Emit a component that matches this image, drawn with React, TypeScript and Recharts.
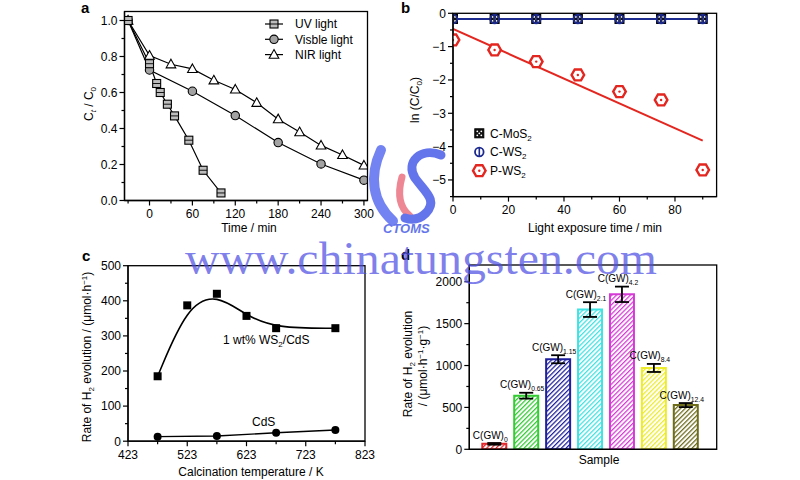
import React from "react";
import { ComposedChart, Line, Bar, Cell, XAxis, YAxis, ErrorBar, LabelList, Legend } from "recharts";

const FONT = 'Arial, "Liberation Sans", Helvetica, sans-serif';

// ---- panel a: degradation ----
const uvTime = [-30, 0, 10, 15, 25, 35, 55, 75, 100];
const uvRatio = [1.0, 0.76, 0.65, 0.6, 0.535, 0.47, 0.335, 0.168, 0.042];
const visTime = [-30, 0, 60, 120, 180, 240, 300];
const visRatio = [1.0, 0.725, 0.607, 0.472, 0.322, 0.203, 0.113];
const nirTime = [-30, 0, 30, 60, 90, 120, 150, 180, 210, 240, 270, 300];
const nirRatio = [1.0, 0.805, 0.757, 0.731, 0.668, 0.617, 0.543, 0.452, 0.38, 0.306, 0.253, 0.195];
const aTicksX = [-30, 0, 30, 60, 90, 120, 150, 180, 210, 240, 270, 300];
const aMajorX = [0, 60, 120, 180, 240, 300];
const aTicksY = [0, 0.1, 0.2, 0.3, 0.4, 0.5, 0.6, 0.7, 0.8, 0.9, 1.0];
const aMajorY = [0, 0.2, 0.4, 0.6, 0.8, 1.0];

// ---- panel b: kinetics ----
const bTime = [0, 15, 30, 45, 60, 75, 90];
const cMoS2 = [-0.17, -0.17, -0.17, -0.17, -0.17, -0.17, -0.17];
const cWS2 = [-0.17, -0.17, -0.17, -0.17, -0.17, -0.17, -0.17];
const pWS2 = [-0.8, -1.1, -1.45, -1.85, -2.35, -2.6, -4.7];
const fitTime = [0, 90];
const fitValue = [-0.47, -3.82];
const bTicksX = [0, 10, 20, 30, 40, 50, 60, 70, 80, 90];
const bMajorX = [0, 20, 40, 60, 80];
const bTicksY = [0, -0.5, -1, -1.5, -2, -2.5, -3, -3.5, -4, -4.5, -5, -5.5];
const bMajorY = [0, -1, -2, -3, -4, -5];

// ---- panel c: calcination ----
const tempWS2 = [473, 523, 573, 623, 673, 773];
const rateWS2 = [185, 387, 420, 357, 322, 322];
const tempCdS = [473, 573, 673, 773];
const rateCdS = [13, 15, 24, 32];
const cTicksX = [423, 473, 523, 573, 623, 673, 723, 773, 823];
const cMajorX = [423, 523, 623, 723, 823];
const cTicksY = [0, 50, 100, 150, 200, 250, 300, 350, 400, 450, 500];
const cMajorY = [0, 100, 200, 300, 400, 500];

// ---- panel d: samples ----
const samples = ["0", "0.65", "1.15", "2.1", "4.2", "8.4", "12.4"];
const sampleRates = [65, 640, 1075, 1668, 1850, 971, 528];
const sampleErrs = [10, 35, 48, 88, 92, 48, 24];
const barColors = ["#e3262b", "#33cc33", "#1f1f9e", "#3fe3e3", "#d63ad6", "#ecec2c", "#6d6d1c"];
const dTicksY = [0, 250, 500, 750, 1000, 1250, 1500, 1750, 2000];
const dMajorY = [0, 500, 1000, 1500, 2000];

// plot frames on the page (left, top, right, bottom) and each chart's origin
const frameA = { l: 124.5, t: 11.5, r: 367.5, b: 200.5, ox: 0, oy: 0 };
const frameB = { l: 453, t: 13.3, r: 716.6, b: 196.6, ox: 400, oy: 0 };
const frameC = { l: 128, t: 265.7, r: 365, b: 441.2, ox: 0, oy: 240 };
const frameD = { l: 469.3, t: 265, r: 716.7, b: 449.3, ox: 400, oy: 240 };
const Y_W = 40;
const X_H = 30;
const marginOf = (f: typeof frameA, yw = Y_W) => ({
  left: f.l - f.ox - yw,
  top: f.t - f.oy,
  right: f.ox + 400 - f.r,
  bottom: f.oy + 240 - f.b - X_H,
});

const zip = (xs: number[], ys: number[]) => xs.map((x, i) => ({ x, y: ys[i] }));
const minus = (v: number) => (v < 0 ? "\u2212" + Math.abs(v) : String(v));

const makeTick = (major: number[], side: "left" | "bottom", fmt: (v: number) => string = String) => (props: any) => {
  const { x, y, payload } = props;
  const v = payload.value;
  const isMajor = major.some((m) => Math.abs(m - v) < 1e-9);
  const len = isMajor ? 5 : 3;
  if (side === "bottom") {
    return (
      <g>
        <line x1={x} x2={x} y1={y} y2={y + len} stroke="#000" strokeWidth={1.2} />
        {isMajor && (
          <text x={x} y={y + 17.5} textAnchor="middle" fontSize={12} fontFamily={FONT} fill="#000">
            {fmt(v)}
          </text>
        )}
      </g>
    );
  }
  return (
    <g>
      <line x1={x - len} x2={x} y1={y} y2={y} stroke="#000" strokeWidth={1.2} />
      {isMajor && (
        <text x={x - 7} y={y + 4.3} textAnchor="end" fontSize={12} fontFamily={FONT} fill="#000">
          {fmt(v)}
        </text>
      )}
    </g>
  );
};

// markers
const UvMark = ({ cx, cy }: any) => (
  <g>
    <rect x={cx - 4} y={cy - 4} width={8} height={8} fill="#bdbdbd" stroke="#000" strokeWidth={1.1} />
    <line x1={cx - 4} x2={cx + 4} y1={cy} y2={cy} stroke="#000" strokeWidth={0.9} />
  </g>
);
const VisMark = ({ cx, cy }: any) => <circle cx={cx} cy={cy} r={4.2} fill="#a3a3a3" stroke="#000" strokeWidth={1.1} />;
const NirMark = ({ cx, cy }: any) => (
  <path d={`M${cx},${cy - 5} L${cx + 4.8},${cy + 3.6} L${cx - 4.8},${cy + 3.6} Z`} fill="#fff" stroke="#000" strokeWidth={1.1} />
);
const MoMark = ({ cx, cy }: any) => (
  <g>
    <rect x={cx - 4.5} y={cy - 4.5} width={9} height={9} fill="#111" stroke="#000" />
    <circle cx={cx - 2} cy={cy - 2} r={0.9} fill="#fff" />
    <circle cx={cx + 2} cy={cy - 2} r={0.9} fill="#fff" />
    <circle cx={cx - 2} cy={cy + 2} r={0.9} fill="#fff" />
    <circle cx={cx + 2} cy={cy + 2} r={0.9} fill="#fff" />
    <circle cx={cx} cy={cy} r={0.9} fill="#fff" />
  </g>
);
const WsMark = ({ cx, cy }: any) => (
  <g>
    <circle cx={cx} cy={cy} r={4.3} fill="none" stroke="#1d2b8f" strokeWidth={1.8} />
    <line x1={cx} x2={cx} y1={cy - 4.3} y2={cy + 4.3} stroke="#1d2b8f" strokeWidth={1.6} />
  </g>
);
const HexMark = ({ cx, cy }: any) => {
  const r = 6.3;
  const pts = [0, 60, 120, 180, 240, 300]
    .map((a) => `${cx + r * Math.cos((a * Math.PI) / 180)},${cy + r * Math.sin((a * Math.PI) / 180)}`)
    .join(" ");
  return (
    <g>
      <polygon points={pts} fill="#fff" stroke="#e3261f" strokeWidth={2.4} />
      <circle cx={cx} cy={cy} r={1.2} fill="#e3261f" />
    </g>
  );
};
const SqMark = ({ cx, cy }: any) => <rect x={cx - 4} y={cy - 4} width={8} height={8} fill="#000" />;
const DotMark = ({ cx, cy }: any) => <circle cx={cx} cy={cy} r={4} fill="#000" />;

const dotOf = (M: any) => (p: any) => (p.cx == null ? <g key={p.index} /> : <g key={p.index}><M cx={p.cx} cy={p.cy} /></g>);

const legendA = [
  { name: "UV light", M: UvMark },
  { name: "Visble light", M: VisMark },
  { name: "NIR light", M: NirMark },
];

const PanelA = () => (
  <ComposedChart width={400} height={240} margin={marginOf(frameA)}>
    <XAxis dataKey="x" type="number" domain={[-35, 305]} ticks={aTicksX} interval={0} tickSize={0} tickMargin={0} tickLine={false}
      tick={makeTick(aMajorX, "bottom")} height={X_H} stroke="#000" strokeWidth={1.3} allowDataOverflow />
    <YAxis type="number" domain={[0, 1.05]} ticks={aTicksY} interval={0} tickSize={0} tickMargin={0} tickLine={false}
      tick={makeTick(aMajorY, "left", (v) => v.toFixed(1))} width={Y_W} stroke="#000" strokeWidth={1.3} allowDataOverflow />
    <Line data={zip(nirTime, nirRatio)} dataKey="y" stroke="#000" strokeWidth={1.2} dot={dotOf(NirMark)} isAnimationActive={false} />
    <Line data={zip(visTime, visRatio)} dataKey="y" stroke="#000" strokeWidth={1.2} dot={dotOf(VisMark)} isAnimationActive={false} />
    <Line data={zip(uvTime, uvRatio)} dataKey="y" stroke="#000" strokeWidth={1.2} dot={dotOf(UvMark)} isAnimationActive={false} />
    <Legend layout="vertical" align="center" verticalAlign="middle"
      wrapperStyle={{ left: 264, top: 15, width: 110, height: 50 }}
      content={() => (
        <svg width={110} height={50}>
          {legendA.map((l, i) => (
            <g key={l.name}>
              <line x1={1} x2={19} y1={9 + i * 15.3} y2={9 + i * 15.3} stroke="#000" strokeWidth={1.2} />
              <l.M cx={10} cy={9 + i * 15.3} />
              <text x={31} y={13.3 + i * 15.3} fontSize={12} fontFamily={FONT}>{l.name}</text>
            </g>
          ))}
        </svg>
      )} />
  </ComposedChart>
);

const legendB = [
  { name: "C-MoS", M: MoMark },
  { name: "C-WS", M: WsMark },
  { name: "P-WS", M: HexMark },
];

const PanelB = () => (
  <ComposedChart width={400} height={240} margin={marginOf(frameB, 35)}>
    <XAxis dataKey="x" type="number" domain={[0, 95]} ticks={bTicksX} interval={0} tickSize={0} tickMargin={0} tickLine={false}
      tick={makeTick(bMajorX, "bottom")} height={X_H} stroke="#000" strokeWidth={1.3} allowDataOverflow />
    <YAxis type="number" domain={[-5.5, 0]} ticks={bTicksY} interval={0} tickSize={0} tickMargin={0} tickLine={false}
      tick={makeTick(bMajorY, "left", minus)} width={35} stroke="#000" strokeWidth={1.3} allowDataOverflow />
    <Line data={zip(fitTime, fitValue)} dataKey="y" stroke="#e3261f" strokeWidth={2} dot={false} isAnimationActive={false} />
    <Line data={zip(bTime, cMoS2)} dataKey="y" stroke="#000" strokeWidth={1.5} dot={dotOf(MoMark)} isAnimationActive={false} />
    <Line data={zip(bTime, cWS2)} dataKey="y" stroke="#1d2b8f" strokeWidth={2} dot={dotOf(WsMark)} isAnimationActive={false} />
    <Line data={zip(bTime, pWS2)} dataKey="y" stroke="none" dot={dotOf(HexMark)} isAnimationActive={false} />
    <Legend layout="vertical" align="center" verticalAlign="middle"
      wrapperStyle={{ left: 71, top: 122, width: 80, height: 60 }}
      content={() => (
        <svg width={80} height={60}>
          {legendB.map((l, i) => (
            <g key={l.name}>
              <l.M cx={8.3} cy={11.3 + i * 18.7} />
              <text x={19} y={15.6 + i * 18.7} fontSize={12} fontFamily={FONT}>
                {l.name}
                <tspan dy={3} fontSize={8}>2</tspan>
              </text>
            </g>
          ))}
        </svg>
      )} />
  </ComposedChart>
);

const PanelC = () => (
  <ComposedChart width={400} height={240} margin={marginOf(frameC)}>
    <XAxis dataKey="x" type="number" domain={[423, 823]} ticks={cTicksX} interval={0} tickSize={0} tickMargin={0} tickLine={false}
      tick={makeTick(cMajorX, "bottom")} height={X_H} stroke="#000" strokeWidth={1.3} allowDataOverflow />
    <YAxis type="number" domain={[0, 500]} ticks={cTicksY} interval={0} tickSize={0} tickMargin={0} tickLine={false}
      tick={makeTick(cMajorY, "left")} width={Y_W} stroke="#000" strokeWidth={1.3} allowDataOverflow />
    <Line data={zip(tempWS2, rateWS2)} dataKey="y" type="basis" stroke="#000" strokeWidth={1.6} dot={dotOf(SqMark)} isAnimationActive={false} />
    <Line data={zip(tempCdS, rateCdS)} dataKey="y" stroke="#000" strokeWidth={1.4} dot={dotOf(DotMark)} isAnimationActive={false} />
  </ComposedChart>
);

const dData = samples.map((s, i) => ({ name: s, rate: sampleRates[i], err: sampleErrs[i] }));

const BarLabel = (p: any) => {
  const { x, y, width, height, index } = p;
  const d = dData[index];
  const errPx = d.rate > 0 ? (d.err * height) / d.rate : 0;
  return (
    <text x={x + width / 2 - 4} y={y - errPx - 4.5} textAnchor="middle" fontSize={10} fontFamily={FONT} fill="#000">
      C(GW)
      <tspan dy={3} fontSize={6.8}>{d.name}</tspan>
    </text>
  );
};

const PanelD = () => (
  <ComposedChart width={400} height={240} data={dData} margin={marginOf(frameD)}>
    <defs>
      {barColors.map((c, i) => (
        <pattern key={c} id={`hatch${i}`} width={3.3} height={3.3} patternUnits="userSpaceOnUse" patternTransform="rotate(45)">
          <rect width={3.3} height={3.3} fill="#fff" />
          <line x1={0.6} y1={0} x2={0.6} y2={3.3} stroke={c} strokeWidth={1.3} />
        </pattern>
      ))}
    </defs>
    <XAxis dataKey="name" padding={{ left: 9, right: 15 }} tick={false} tickLine={false} height={X_H} stroke="#000" strokeWidth={1.3} />
    <YAxis type="number" domain={[0, 2200]} ticks={dTicksY} interval={0} tickSize={0} tickMargin={0} tickLine={false}
      tick={makeTick(dMajorY, "left")} width={Y_W} stroke="#000" strokeWidth={1.3} allowDataOverflow />
    <Bar dataKey="rate" barSize={24} strokeWidth={2} isAnimationActive={false}>
      {dData.map((d, i) => (
        <Cell key={d.name} fill={`url(#hatch${i})`} stroke={barColors[i]} />
      ))}
      <ErrorBar dataKey="err" width={7} stroke="#000" strokeWidth={1.8} direction="y" />
      <LabelList dataKey="rate" content={BarLabel} />
    </Bar>
  </ComposedChart>
);

const T = { fontSize: 12, fontFamily: FONT, fill: "#000" } as const;
const Frame = ({ f }: { f: typeof frameA }) => (
  <rect x={f.l} y={f.t} width={f.r - f.l} height={f.b - f.t} fill="none" stroke="#000" strokeWidth={1.3} />
);

export default function App() {
  return (
    <div style={{ position: "absolute", left: 0, top: 0, width: 800, height: 480, background: "#fff", overflow: "hidden", fontFamily: FONT }}>
      <div style={{ position: "absolute", left: 0, top: 0 }}><PanelA /></div>
      <div style={{ position: "absolute", left: 400, top: 0 }}><PanelB /></div>
      <div style={{ position: "absolute", left: 0, top: 240 }}><PanelC /></div>
      <div style={{ position: "absolute", left: 400, top: 240 }}><PanelD /></div>
      <svg width={800} height={480} style={{ position: "absolute", left: 0, top: 0, pointerEvents: "none" }}>
        {[frameA, frameB, frameC, frameD].map((f, i) => <Frame key={i} f={f} />)}

        {/* panel letters */}
        <text x={81} y={13} fontSize={15} fontWeight="bold" fontFamily={FONT}>a</text>
        <text x={401} y={13} fontSize={15} fontWeight="bold" fontFamily={FONT}>b</text>
        <text x={82} y={261} fontSize={15} fontWeight="bold" fontFamily={FONT}>c</text>
        <text x={401} y={260} fontSize={15} fontWeight="bold" fontFamily={FONT}>d</text>

        {/* axis titles */}
        <text x={249} y={232} textAnchor="middle" {...T}>Time / min</text>
        <text transform="translate(93,104) rotate(-90)" textAnchor="middle" {...T}>
          C<tspan dy={3} fontSize={8} fontStyle="italic">t</tspan><tspan dy={-3}> / C</tspan><tspan dy={3} fontSize={8}>0</tspan>
        </text>
        <text x={595} y={232} textAnchor="middle" {...T}>Light exposure time / min</text>
        <text transform="translate(419,100) rotate(-90)" textAnchor="middle" {...T}>
          ln (C/C<tspan dy={3} fontSize={8}>0</tspan><tspan dy={-3}>)</tspan>
        </text>
        <text x={251} y={476} textAnchor="middle" {...T}>Calcination temperature / K</text>
        <text transform="translate(91,357) rotate(-90)" textAnchor="middle" {...T}>
          Rate of H<tspan dy={3} fontSize={8}>2</tspan><tspan dy={-3}> evolution / (μmol·h</tspan><tspan dy={-4} fontSize={8}>−1</tspan><tspan dy={4}>)</tspan>
        </text>
        <text x={599} y={464} textAnchor="middle" {...T}>Sample</text>
        <text transform="translate(412,364) rotate(-90)" textAnchor="middle" {...T}>
          Rate of H<tspan dy={3} fontSize={8}>2</tspan><tspan dy={-3}> evolution</tspan>
        </text>
        <text transform="translate(427,366) rotate(-90)" textAnchor="middle" {...T}>
          / (μmol·h<tspan dy={-4} fontSize={8}>−1</tspan><tspan dy={4}>·g</tspan><tspan dy={-4} fontSize={8}>−1</tspan><tspan dy={4}>)</tspan>
        </text>

        {/* annotations in c */}
        <text x={223} y={344} {...T}>
          1 wt% WS<tspan dy={3} fontSize={8}>2</tspan><tspan dy={-3}>/CdS</tspan>
        </text>
        <text x={252} y={426} {...T}>CdS</text>

        {/* CTOMS logo */}
        <g opacity={0.85}>
          <path d="M381,150 C369,176 372,202 393,221" stroke="#5b6ff0" strokeWidth={10} fill="none" strokeLinecap="round" />
          <path d="M402,177 C397,195 400,208 410,216" stroke="#ec7382" strokeWidth={7} fill="none" strokeLinecap="round" />
          <path d="M441,155 C421,147 405,162 415,178 C425,192 438,200 426,213 C419,220 411,220 405,218" stroke="#4a5ee8" strokeWidth={9} fill="none" strokeLinecap="round" />
          <text x={383} y={233} fontSize={13} fontWeight="bold" fontStyle="italic" fontFamily={FONT} fill="#4a5ee8">CTOMS</text>
        </g>

        {/* watermark */}
        <text x={185} y={274} fontSize={47} fontFamily='"Liberation Serif", "Times New Roman", serif' fill="#4f4fe4" fillOpacity={0.72}
          textLength={472} lengthAdjust="spacingAndGlyphs">www.chinatungsten.com</text>
      </svg>
    </div>
  );
}
